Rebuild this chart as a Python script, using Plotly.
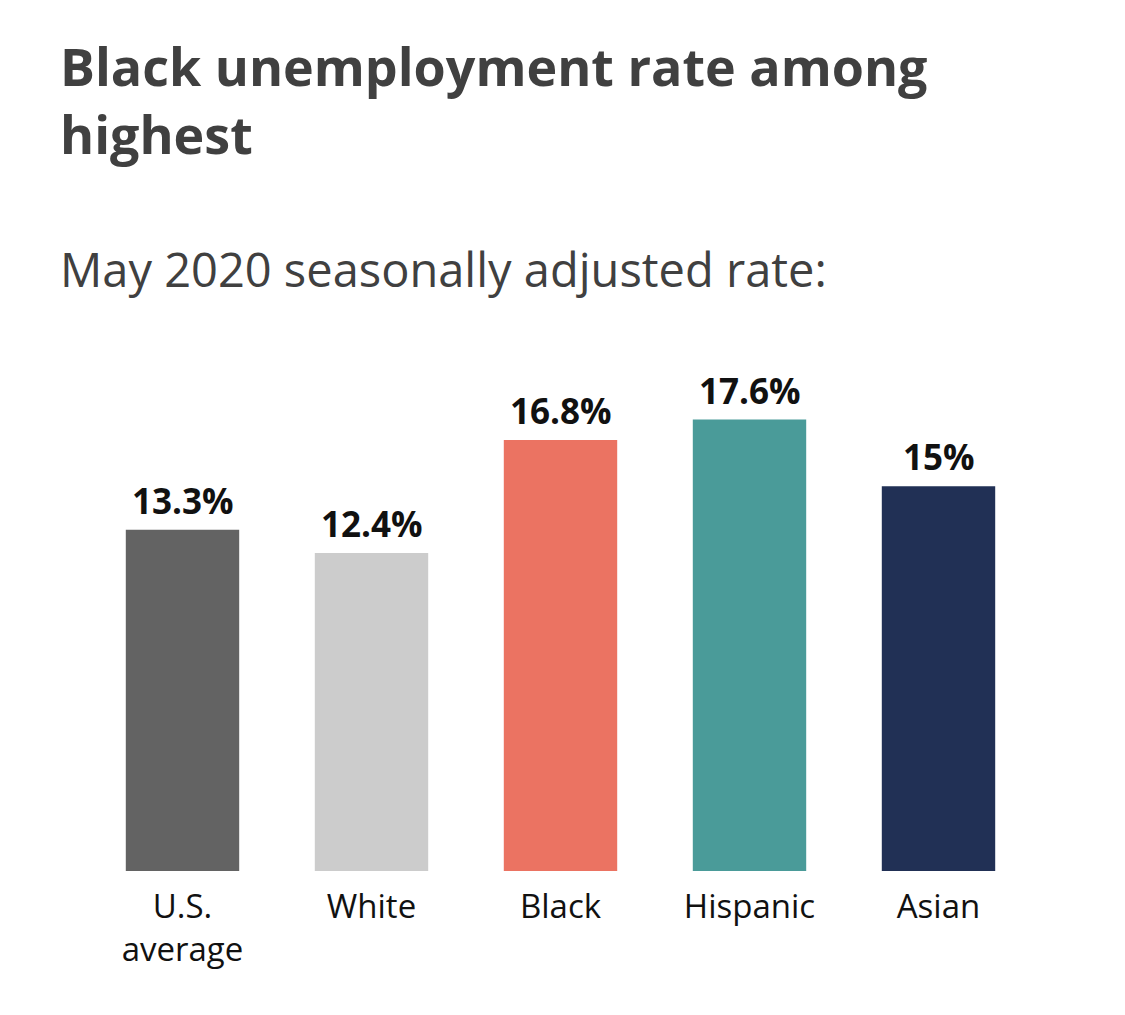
import plotly.graph_objects as go

categories = ["U.S.<br>average", "White", "Black", "Hispanic", "Asian"]
values = [13.3, 12.4, 16.8, 17.6, 15]
value_labels = ["13.3%", "12.4%", "16.8%", "17.6%", "15%"]
colors = ["#636363", "#cccccc", "#eb7362", "#4a9b99", "#213055"]

FONT = "Open Sans"

fig = go.Figure()
fig.add_trace(go.Bar(
    x=categories, y=values, marker=dict(color=colors, line=dict(width=0)),
    width=0.6, hoverinfo="skip",
))

for c, v, t in zip(categories, values, value_labels):
    fig.add_annotation(x=c, y=v, text="<b>%s</b>" % t, showarrow=False,
                       yanchor="bottom", yshift=4,
                       font=dict(family=FONT, size=35, color="#111111"))

fig.add_annotation(xref="paper", yref="paper", x=-0.032, y=1, xanchor="left", yanchor="top",
                   yshift=330, align="left", showarrow=False,
                   text="<b>Black unemployment rate among<br>highest</b>",
                   font=dict(family=FONT, size=52, color="#404040"))
fig.add_annotation(xref="paper", yref="paper", x=-0.032, y=1, xanchor="left", yanchor="top",
                   yshift=123, align="left", showarrow=False,
                   text="May 2020 seasonally adjusted rate:",
                   font=dict(family=FONT, size=47, color="#404040"))

fig.update_layout(
    width=1125, height=1015,
    margin=dict(l=80, r=100, t=350, b=152),
    paper_bgcolor="white", plot_bgcolor="white",
    showlegend=False, bargap=0.4,
    xaxis=dict(showgrid=False, zeroline=False, showline=False,
               ticks="outside", ticklen=6, tickcolor="rgba(0,0,0,0)",
               tickfont=dict(family=FONT, size=33, color="#111111")),
    yaxis=dict(range=[0, 20], visible=False),
)

fig.write_html("out.html")
